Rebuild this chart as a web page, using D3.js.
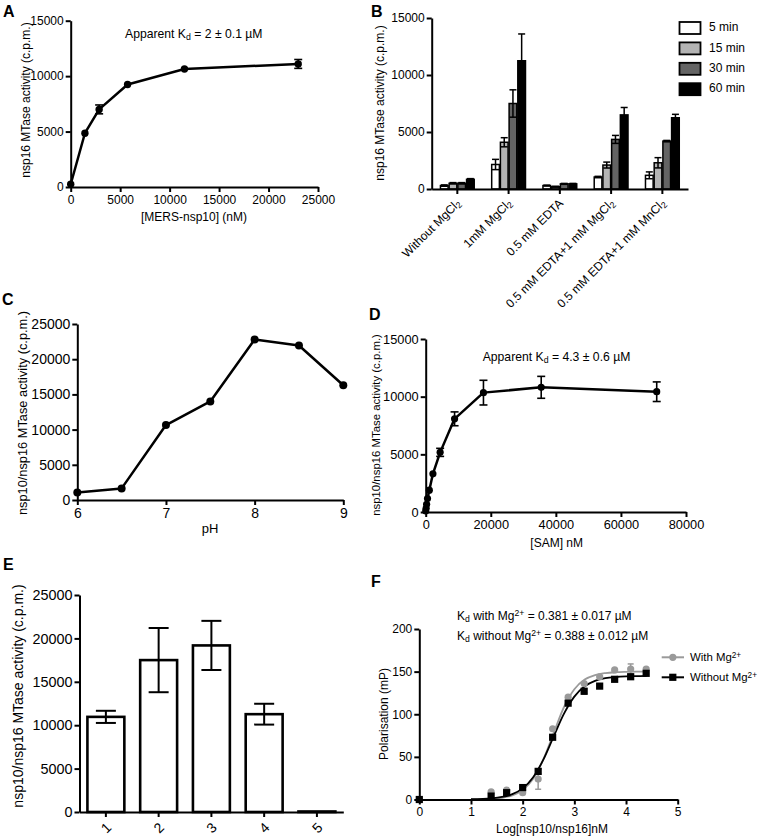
<!DOCTYPE html>
<html><head><meta charset="utf-8">
<script src="https://cdn.jsdelivr.net/npm/d3@7"></script>
<style>body{margin:0;background:#fff} svg{display:block}</style>
</head><body><svg id="chart" width="760" height="838"></svg>
<script>
// ---------- Panel A ----------
const aConc = [0, 1437, 2875, 5750, 11500, 23000];
const aActivity = [250, 4850, 7000, 9250, 10650, 11100];
const aErr = [0, 0, 400, 0, 0, 400];
const aXTicks = [0, 5000, 10000, 15000, 20000, 25000];
const aYTicks = [0, 5000, 10000, 15000];
// ---------- Panel B ----------
const bConditions = ["Without MgCl2", "1mM MgCl2", "0.5 mM EDTA", "0.5 mM EDTA+1 mM MgCl2", "0.5 mM EDTA+1 mM MnCl2"];
const bTimes = ["5 min", "15 min", "30 min", "60 min"];
const b5min = [300, 2150, 300, 1050, 1200];
const b15min = [500, 4100, 200, 2100, 2300];
const b30min = [500, 7500, 450, 4350, 4200];
const b60min = [850, 11250, 450, 6500, 6250];
const b5minErr = [60, 450, 40, 60, 300];
const b15minErr = [60, 400, 40, 260, 450];
const b30minErr = [60, 1200, 40, 350, 60];
const b60minErr = [60, 2350, 40, 650, 300];
const bColors = ["#ffffff", "#b4b4b4", "#646464", "#000000"];
const bYTicks = [0, 5000, 10000, 15000];
// ---------- Panel C ----------
const cPH = [6, 6.5, 7, 7.5, 8, 8.5, 9];
const cActivity = [1050, 1650, 10650, 14000, 22800, 21950, 16300];
const cXTicks = [6, 7, 8, 9];
const cYTicks = [0, 5000, 10000, 15000, 20000, 25000];
// ---------- Panel D ----------
const dSAM = [0, 139, 277, 555, 1109, 2219, 4437, 8875, 17750, 35500, 71000];
const dActivity = [90, 320, 670, 1160, 1890, 3310, 5170, 8080, 10350, 10810, 10430];
const dErr = [0, 0, 0, 0, 0, 0, 350, 600, 1070, 950, 850];
const dXTicks = [0, 20000, 40000, 60000, 80000];
const dYTicks = [0, 5000, 10000, 15000];
// ---------- Panel E ----------
const eSamples = ["1", "2", "3", "4", "5"];
const eActivity = [10960, 17500, 19190, 11270, 60];
const eErr = [700, 3700, 2830, 1200, 0];
const eYTicks = [0, 5000, 10000, 15000, 20000, 25000];
// ---------- Panel F ----------
const fLog = [0, 1.39, 1.69, 2.0, 2.3, 2.58, 2.88, 3.19, 3.49, 3.78, 4.09, 4.39];
const fWith = [0, 9, 11, 8, 24, 83, 120, 136, 144, 152, 153, 153];
const fWithErr = [0, 0, 0, 0, 12, 0, 0, 0, 0, 0, 6, 0];
const fWithout = [0, 4, 8, 14, 33, 73, 113, 127, 133, 141, 144, 148];
const fWithoutErr = [0, 0, 0, 0, 3, 0, 0, 3, 0, 0, 0, 0];
const fFitLog = [1.0, 1.4, 1.6, 1.8, 2.0, 2.2, 2.4, 2.6, 2.8, 3.0, 3.2, 3.4, 3.6, 3.8, 4.0, 4.2, 4.4];
const fFitWith = [0.1, 0.9, 2.0, 4.8, 11, 24, 47, 78, 108.5, 129.4, 140.7, 146, 148.3, 149.3, 149.7, 149.9, 150];
const fFitWithout = [0.3, 1.4, 3, 6.3, 13.1, 25.9, 46.7, 73.9, 100.7, 120.7, 132.8, 139.2, 142.3, 143.7, 144.4, 144.7, 144.9];
const fXTicks = [0, 1, 2, 3, 4, 5];
const fYTicks = [0, 50, 100, 150, 200];
const fSeries = ["With Mg", "Without Mg"];
const fColors = ["#9a9a9a", "#000000"];

const FONT = '"Liberation Sans", Arial, Helvetica, sans-serif';
const svg = d3.select("#chart").attr("font-family", FONT);

function styleAxis(g, fs) {
  g.select(".domain").attr("stroke", "#000").attr("stroke-width", 2);
  g.selectAll(".tick line").attr("stroke", "#000").attr("stroke-width", 2);
  g.selectAll(".tick text").attr("font-size", fs).attr("font-family", FONT).attr("fill", "#000");
  return g;
}
function leftAxis(scale, x0, ticks, fs) {
  const g = svg.append("g").attr("transform", `translate(${x0},0)`)
    .call(d3.axisLeft(scale).tickValues(ticks).tickSize(5).tickSizeOuter(0).tickPadding(2).tickFormat(d3.format("d")));
  return styleAxis(g, fs);
}
function bottomAxis(axisGen, y0, fs) {
  const g = svg.append("g").attr("transform", `translate(0,${y0})`).call(axisGen);
  return styleAxis(g, fs);
}
function rich(textSel, parts) {
  parts.forEach(p => {
    const t = textSel.append("tspan").text(p.t);
    if (p.s === "sub") t.attr("baseline-shift", "-25%").attr("font-size", "72%");
    if (p.s === "sup") t.attr("baseline-shift", "40%").attr("font-size", "72%");
  });
  return textSel;
}
function yTitle(x, y, txt, fs) {
  svg.append("text").attr("transform", `translate(${x},${y}) rotate(-90)`)
    .attr("text-anchor", "middle").attr("dominant-baseline", "middle").attr("font-size", fs).text(txt);
}
function xTitle(x, y, txt, fs) {
  svg.append("text").attr("x", x).attr("y", y).attr("text-anchor", "middle").attr("font-size", fs).text(txt);
}
function panelLetter(x, y, l) {
  svg.append("text").attr("x", x).attr("y", y).attr("font-size", 16).attr("font-weight", "bold").text(l);
}
function errBars(xs, ys, errs, xsc, ysc, cap, color, sw) {
  const g = svg.append("g").attr("stroke", color || "#000").attr("stroke-width", sw || 1.6);
  xs.forEach((xv, i) => {
    if (!errs[i]) return;
    const px = xsc(xv), lo = ysc(ys[i] - errs[i]), hi = ysc(ys[i] + errs[i]);
    g.append("line").attr("x1", px).attr("x2", px).attr("y1", lo).attr("y2", hi);
    g.append("line").attr("x1", px - cap / 2).attr("x2", px + cap / 2).attr("y1", lo).attr("y2", lo);
    g.append("line").attr("x1", px - cap / 2).attr("x2", px + cap / 2).attr("y1", hi).attr("y2", hi);
  });
}

// ================= Panel A =================
{
  const x = d3.scaleLinear().domain([0, 25000]).range([70.7, 318]);
  const y = d3.scaleLinear().domain([0, 15000]).range([187, 20.7]);
  leftAxis(y, x(0), aYTicks, 12);
  bottomAxis(d3.axisBottom(x).tickValues(aXTicks).tickSize(5).tickSizeOuter(0).tickPadding(3).tickFormat(d3.format("d")), y(0), 12);
  const pts = aConc.map((c, i) => [c, aActivity[i]]);
  svg.append("path").datum(pts).attr("fill", "none").attr("stroke", "#000").attr("stroke-width", 2.5)
    .attr("stroke-linejoin", "round").attr("d", d3.line().x(d => x(d[0])).y(d => y(d[1])));
  errBars(aConc, aActivity, aErr, x, y, 8);
  svg.append("g").selectAll("circle").data(pts).join("circle")
    .attr("cx", d => x(d[0])).attr("cy", d => y(d[1])).attr("r", 3.7).attr("fill", "#000");
  yTitle(27, 100, "nsp16 MTase activity (c.p.m.)", 12);
  xTitle(194, 221, "[MERS-nsp10] (nM)", 12);
  rich(svg.append("text").attr("x", 125).attr("y", 37.5).attr("font-size", 12.2),
    [{t: "Apparent K"}, {t: "d", s: "sub"}, {t: " = 2 \u00b1  0.1 \u00b5M"}]);
  panelLetter(3, 17, "A");
}

// ================= Panel B =================
{
  const x = d3.scaleBand().domain(bConditions).range([431.7, 688]).paddingInner(0.3).paddingOuter(0.15);
  const xs = d3.scaleBand().domain(bTimes).range([0, x.bandwidth()]).padding(0.12);
  const y = d3.scaleLinear().domain([0, 15000]).range([189, 18]);
  const series = [b5min, b15min, b30min, b60min];
  const errs = [b5minErr, b15minErr, b30minErr, b60minErr];
  series.forEach((vals, si) => {
    const g = svg.append("g");
    bConditions.forEach((c, ci) => {
      const bx = x(c) + xs(bTimes[si]);
      g.append("rect").attr("x", bx).attr("y", y(vals[ci])).attr("width", xs.bandwidth())
        .attr("height", y(0) - y(vals[ci])).attr("fill", bColors[si]).attr("stroke", "#000").attr("stroke-width", 1.5);
      const cx = bx + xs.bandwidth() / 2;
      const e = errs[si][ci];
      const hi = y(vals[ci] + e), lo = y(Math.max(0, vals[ci] - e));
      const eg = svg.append("g").attr("stroke", "#000").attr("stroke-width", 1.5);
      eg.append("line").attr("x1", cx).attr("x2", cx).attr("y1", lo).attr("y2", hi);
      eg.append("line").attr("x1", cx - 3.5).attr("x2", cx + 3.5).attr("y1", hi).attr("y2", hi);
      eg.append("line").attr("x1", cx - 3.5).attr("x2", cx + 3.5).attr("y1", lo).attr("y2", lo);
    });
  });
  leftAxis(y, 431.7, bYTicks, 12);
  const xg = bottomAxis(d3.axisBottom(x).tickSize(5).tickSizeOuter(0), y(0), 12);
  xg.selectAll(".tick text").remove();
  bConditions.forEach(c => {
    const t = svg.append("text").attr("transform", `translate(${x(c) + x.bandwidth() / 2 + 4},${204}) rotate(-45)`)
      .attr("text-anchor", "end").attr("font-size", 12);
    const m = c.match(/^(.*Cl)2$/);
    if (m) rich(t, [{t: m[1]}, {t: "2", s: "sub"}]); else t.text(c);
  });
  // legend
  const lg = svg.append("g");
  bTimes.forEach((tm, i) => {
    const cy = 28 + i * 20.4;
    lg.append("rect").attr("x", 679.5).attr("y", cy - 6).attr("width", 21).attr("height", 12)
      .attr("fill", bColors[i]).attr("stroke", "#000").attr("stroke-width", 1.8);
    lg.append("text").attr("x", 709).attr("y", cy).attr("dominant-baseline", "middle").attr("font-size", 12).text(tm);
  });
  yTitle(381, 103, "nsp16 MTase activity (c.p.m.)", 12);
  panelLetter(371, 17, "B");
}

// ================= Panel C =================
{
  const x = d3.scaleLinear().domain([6, 9]).range([77.3, 343.3]);
  const y = d3.scaleLinear().domain([0, 25000]).range([500, 324]);
  leftAxis(y, x(6), cYTicks, 14);
  bottomAxis(d3.axisBottom(x).tickValues(cXTicks).tickSize(5).tickSizeOuter(0).tickPadding(3).tickFormat(d3.format("d")), y(0), 14);
  const pts = cPH.map((p, i) => [p, cActivity[i]]);
  svg.append("path").datum(pts).attr("fill", "none").attr("stroke", "#000").attr("stroke-width", 2.5)
    .attr("stroke-linejoin", "round").attr("d", d3.line().x(d => x(d[0])).y(d => y(d[1])));
  svg.append("g").selectAll("circle").data(pts).join("circle")
    .attr("cx", d => x(d[0])).attr("cy", d => y(d[1])).attr("r", 4).attr("fill", "#000");
  yTitle(24, 413, "nsp10/nsp16 MTase activity (c.p.m.)", 12.8);
  xTitle(210, 533, "pH", 13);
  panelLetter(2, 305, "C");
}

// ================= Panel D =================
{
  const x = d3.scaleLinear().domain([0, 80000]).range([425.7, 686]);
  const y = d3.scaleLinear().domain([0, 15000]).range([512, 339]);
  leftAxis(y, x(0), dYTicks, 12.8);
  bottomAxis(d3.axisBottom(x).tickValues(dXTicks).tickSize(5).tickSizeOuter(0).tickPadding(3).tickFormat(d3.format("d")), y(0), 12.8);
  const pts = dSAM.map((c, i) => [c, dActivity[i]]);
  svg.append("path").datum(pts).attr("fill", "none").attr("stroke", "#000").attr("stroke-width", 2.5)
    .attr("stroke-linejoin", "round").attr("d", d3.line().x(d => x(d[0])).y(d => y(d[1])));
  errBars(dSAM, dActivity, dErr, x, y, 8);
  svg.append("g").selectAll("circle").data(pts).join("circle")
    .attr("cx", d => x(d[0])).attr("cy", d => y(d[1])).attr("r", 3.6).attr("fill", "#000");
  yTitle(377, 425, "nsp10/nsp16 MTase activity (c.p.m.)", 11.4);
  xTitle(556.7, 547, "[SAM] nM", 12);
  rich(svg.append("text").attr("x", 482.7).attr("y", 360.5).attr("font-size", 12.2),
    [{t: "Apparent K"}, {t: "d", s: "sub"}, {t: " = 4.3 \u00b1  0.6 \u00b5M"}]);
  panelLetter(369, 320, "D");
}

// ================= Panel E =================
{
  const x = d3.scaleBand().domain(eSamples).range([79.5, 343.3]).paddingInner(0.3).paddingOuter(0.15);
  const y = d3.scaleLinear().domain([0, 25000]).range([812, 595]);
  svg.append("g").selectAll("rect").data(eSamples).join("rect")
    .attr("x", d => x(d)).attr("y", (d, i) => y(eActivity[i])).attr("width", x.bandwidth())
    .attr("height", (d, i) => y(0) - y(eActivity[i])).attr("fill", "#fff").attr("stroke", "#000").attr("stroke-width", 2.6);
  const cx = d => x(d) + x.bandwidth() / 2;
  const eg = svg.append("g").attr("stroke", "#000").attr("stroke-width", 2);
  eSamples.forEach((s, i) => {
    if (!eErr[i]) return;
    const hi = y(eActivity[i] + eErr[i]), lo = y(eActivity[i] - eErr[i]);
    eg.append("line").attr("x1", cx(s)).attr("x2", cx(s)).attr("y1", lo).attr("y2", hi);
    eg.append("line").attr("x1", cx(s) - 10).attr("x2", cx(s) + 10).attr("y1", hi).attr("y2", hi);
    eg.append("line").attr("x1", cx(s) - 10).attr("x2", cx(s) + 10).attr("y1", lo).attr("y2", lo);
  });
  leftAxis(y, 79.5, eYTicks, 14.4);
  const xg = bottomAxis(d3.axisBottom(x).tickSize(5).tickSizeOuter(0), y(0), 14);
  xg.selectAll(".tick text").remove();
  eSamples.forEach(s => {
    svg.append("text").attr("transform", `translate(${cx(s) + 3},${825}) rotate(-45)`)
      .attr("text-anchor", "end").attr("dy", "0.35em").attr("font-size", 14).text(s);
  });
  yTitle(19, 696, "nsp10/nsp16 MTase activity (c.p.m.)", 14);
  panelLetter(3, 570, "E");
}

// ================= Panel F =================
{
  const x = d3.scaleLinear().domain([0, 5]).range([419.3, 677.7]);
  const y = d3.scaleLinear().domain([0, 200]).range([799.5, 629]);
  const line = d3.line().x(d => x(d[0])).y(d => y(d[1])).curve(d3.curveMonotoneX);
  [fFitWith, fFitWithout].forEach((fit, si) => {
    svg.append("path").datum(fFitLog.map((l, i) => [l, fit[i]])).attr("fill", "none")
      .attr("stroke", fColors[si]).attr("stroke-width", 1.8).attr("d", line);
  });
  errBars(fLog, fWith, fWithErr, x, y, 6, fColors[0], 1.5);
  errBars(fLog, fWithout, fWithoutErr, x, y, 6, fColors[1], 1.5);
  svg.append("g").selectAll("circle").data(fLog).join("circle")
    .attr("cx", d => x(d)).attr("cy", (d, i) => y(fWith[i])).attr("r", 3.6).attr("fill", fColors[0]);
  svg.append("g").selectAll("rect").data(fLog).join("rect")
    .attr("x", d => x(d) - 3.6).attr("y", (d, i) => y(fWithout[i]) - 3.6).attr("width", 7.2).attr("height", 7.2).attr("fill", fColors[1]);
  leftAxis(y, x(0), fYTicks, 12);
  bottomAxis(d3.axisBottom(x).tickValues(fXTicks).tickSize(5).tickSizeOuter(0).tickPadding(3).tickFormat(d3.format("d")), y(0), 12);
  yTitle(385, 714, "Polarisation (mP)", 12);
  xTitle(552, 833, "Log[nsp10/nsp16]nM", 12);
  rich(svg.append("text").attr("x", 457).attr("y", 620).attr("font-size", 12),
    [{t: "K"}, {t: "d", s: "sub"}, {t: " with Mg"}, {t: "2+", s: "sup"}, {t: " = 0.381 \u00b1 0.017 \u00b5M"}]);
  rich(svg.append("text").attr("x", 457).attr("y", 639.5).attr("font-size", 12),
    [{t: "K"}, {t: "d", s: "sub"}, {t: " without Mg"}, {t: "2+", s: "sup"}, {t: " = 0.388 \u00b1 0.012 \u00b5M"}]);
  // legend
  fSeries.forEach((s, i) => {
    const cy = 657.3 + i * 20;
    svg.append("line").attr("x1", 661.7).attr("x2", 684).attr("y1", cy).attr("y2", cy)
      .attr("stroke", fColors[i]).attr("stroke-width", 2);
    if (i === 0) svg.append("circle").attr("cx", 672.8).attr("cy", cy).attr("r", 3.6).attr("fill", fColors[i]);
    else svg.append("rect").attr("x", 672.8 - 3.6).attr("y", cy - 3.6).attr("width", 7.2).attr("height", 7.2).attr("fill", fColors[i]);
    rich(svg.append("text").attr("x", 690).attr("y", cy).attr("dy", "0.35em").attr("font-size", 11.4),
      [{t: s}, {t: "2+", s: "sup"}]);
  });
  panelLetter(371, 587, "F");
}
</script>
</body></html>
